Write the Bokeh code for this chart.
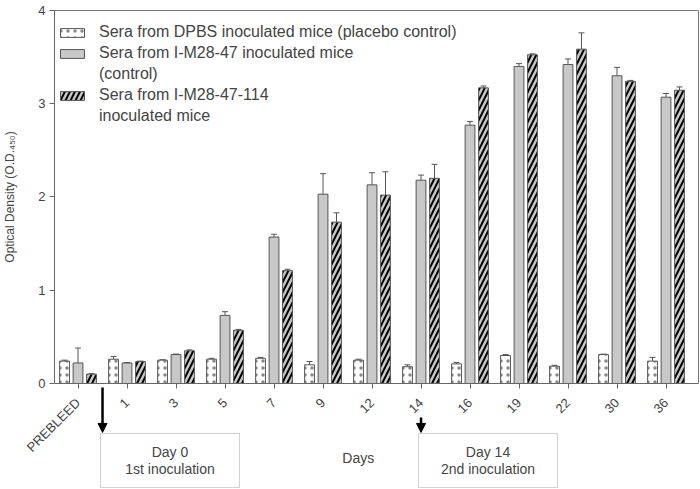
import math
from bokeh.plotting import figure
from bokeh.models import (Range1d, FixedTicker, Legend, LegendItem, Label, Arrow,
                          NormalHead, BoxAnnotation, ColumnDataSource, LinearAxis)
from bokeh.transform import dodge
from bokeh.embed import file_html
from bokeh.resources import INLINE

# ---- data ----
days = ["PREBLEED", "1", "3", "5", "7", "9", "12", "14", "16", "19", "22", "30", "36"]
dpbs = [0.24, 0.26, 0.25, 0.26, 0.27, 0.20, 0.25, 0.18, 0.21, 0.30, 0.185, 0.31, 0.24]
dpbs_err = [0.01, 0.03, 0.005, 0.01, 0.01, 0.035, 0.01, 0.02, 0.015, 0.01, 0.01, 0.005, 0.04]
m28 = [0.22, 0.22, 0.31, 0.73, 1.57, 2.03, 2.13, 2.18, 2.77, 3.40, 3.42, 3.30, 3.07]
m28_err = [0.16, 0.005, 0.005, 0.04, 0.03, 0.22, 0.13, 0.055, 0.04, 0.03, 0.06, 0.09, 0.04]
m114 = [0.10, 0.235, 0.35, 0.57, 1.21, 1.73, 2.02, 2.20, 3.17, 3.525, 3.585, 3.24, 3.145]
m114_err = [0.005, 0.005, 0.01, 0.01, 0.015, 0.10, 0.25, 0.15, 0.02, 0.01, 0.175, 0.01, 0.035]
y_ticks = [0, 1, 2, 3, 4]

FONT = "Liberation Sans"
TXT = "#444444"
EDGE = "#555555"
AX = "#666666"

X0, X1 = -0.48, 12.663   # data extent of the plotted area (y-axis at X0)
Y0, Y1 = 0, 4

idx = list(range(len(days)))
src = ColumnDataSource(dict(
    x=idx,
    dpbs=dpbs, dpbs_hi=[v + e for v, e in zip(dpbs, dpbs_err)],
    m28=m28, m28_hi=[v + e for v, e in zip(m28, m28_err)],
    m114=m114, m114_hi=[v + e for v, e in zip(m114, m114_err)],
))

# frame covers the whole canvas; the axes are pinned at x = X0, y = 0 and y = 4
p = figure(width=700, height=489, output_backend="svg", toolbar_location=None,
           x_range=Range1d(-1.582, X1), y_range=Range1d(-1.137, 4.107),
           min_border_left=0, min_border_right=2, min_border_top=0, min_border_bottom=0)
p.outline_line_color = None
p.xgrid.visible = False
p.ygrid.visible = False

OFF = 0.275
BW = 0.2
CAP = 0.06

for key, off in [("dpbs", -OFF), ("m28", 0.0), ("m114", OFF)]:
    p.segment(x0=dodge("x", off, range=p.x_range), y0=key,
              x1=dodge("x", off, range=p.x_range), y1=key + "_hi",
              source=src, line_color=EDGE, line_width=1)
    p.segment(x0=dodge("x", off - CAP, range=p.x_range), y0=key + "_hi",
              x1=dodge("x", off + CAP, range=p.x_range), y1=key + "_hi",
              source=src, line_color=EDGE, line_width=1)

r1 = p.vbar(x=dodge("x", -OFF, range=p.x_range), top="dpbs", width=BW, source=src,
            fill_color="white", line_color=EDGE, line_width=1,
            hatch_pattern=".", hatch_color="#888888", hatch_scale=7, hatch_weight=1)
r2 = p.vbar(x=dodge("x", 0.0, range=p.x_range), top="m28", width=BW, source=src,
            fill_color="#c8c8c8", line_color=EDGE, line_width=1)
r3 = p.vbar(x=dodge("x", OFF, range=p.x_range), top="m114", width=BW, source=src,
            fill_color="#c8c8c8", line_color=EDGE, line_width=1,
            hatch_pattern="/", hatch_color="black", hatch_scale=10, hatch_weight=2)
blank_a = p.vbar(x=[], top=[], width=BW, fill_alpha=0, line_alpha=0)
blank_b = p.vbar(x=[], top=[], width=BW, fill_alpha=0, line_alpha=0)

legend = Legend(items=[
    LegendItem(label="Sera from DPBS inoculated mice (placebo control)", renderers=[r1]),
    LegendItem(label="Sera from I-M28-47 inoculated mice", renderers=[r2]),
    LegendItem(label="(control)", renderers=[blank_a]),
    LegendItem(label="Sera from I-M28-47-114", renderers=[r3]),
    LegendItem(label="inoculated mice", renderers=[blank_b]),
], location=(57, 362.5), margin=0, padding=0, spacing=0, label_height=21,
    glyph_height=11, glyph_width=30, label_standoff=12,
    label_text_font=FONT, label_text_font_size="16px", label_text_color=TXT,
    border_line_alpha=0, background_fill_alpha=0)
p.add_layout(legend)

p.xaxis.fixed_location = Y0
p.xaxis.bounds = (X0, X1)
p.xaxis.ticker = FixedTicker(ticks=idx)
p.xaxis.major_label_overrides = {i: d for i, d in enumerate(days)}
p.xaxis.major_label_orientation = math.pi / 4
p.yaxis.fixed_location = X0
p.yaxis.ticker = FixedTicker(ticks=y_ticks)
p.yaxis.bounds = (Y0, Y1)
p.yaxis.axis_label = "Optical Density (O.D.\u2084\u2085\u2080)"
p.yaxis.axis_label_standoff = 18
p.yaxis.axis_label_text_font = FONT
p.yaxis.axis_label_text_font_size = "12px"
p.yaxis.axis_label_text_font_style = "normal"
p.yaxis.axis_label_text_color = TXT
for ax in (p.xaxis, p.yaxis):
    ax.axis_line_color = AX
    ax.major_tick_line_color = AX
    ax.major_tick_out = 5
    ax.major_tick_in = 0
    ax.minor_tick_line_color = None
    ax.major_label_text_font = FONT
    ax.major_label_text_font_size = "13px"
    ax.major_label_text_color = TXT
p.yaxis.major_label_standoff = 4
p.xaxis.major_label_standoff = 12

# plain frame lines on top and right of the data area
top_ax = LinearAxis(ticker=FixedTicker(ticks=[]), axis_line_color="#777777", bounds=(X0, X1),
                    fixed_location=Y1,
                    major_tick_out=0, major_tick_in=0, minor_tick_out=0, minor_tick_in=0,
                    major_label_standoff=0, major_label_text_font_size="0px")
right_ax = LinearAxis(ticker=FixedTicker(ticks=[]), axis_line_color="#777777", bounds=(Y0, Y1),
                      major_tick_out=0, major_tick_in=0, minor_tick_out=0, minor_tick_in=0,
                      major_label_standoff=0, major_label_text_font_size="0px")
p.add_layout(top_ax, "above")
p.add_layout(right_ax, "right")

# inoculation arrows and notes
for xs, ys, ye in [(0.5, -0.043, -0.525), (7.0, -0.365, -0.525)]:
    p.add_layout(Arrow(end=NormalHead(size=9, fill_color="black", line_color="black"),
                       x_start=xs, y_start=ys, x_end=xs, y_end=ye,
                       line_width=2.5, line_color="black"))

for left, right, l1, l2 in [(0.459, 3.296, "Day 0", "1st inoculation"),
                            (6.949, 9.785, "Day 14", "2nd inoculation")]:
    p.add_layout(BoxAnnotation(left=left, right=right, top=-0.536, bottom=-1.115,
                               fill_alpha=0, line_color=AX, line_width=1))
    cx = (left + right) / 2
    for txt, yy in [(l1, -0.74), (l2, -0.922)]:
        p.add_layout(Label(x=cx, y=yy, text=txt, text_align="center", text_baseline="middle",
                           text_font=FONT, text_font_size="14px", text_color=TXT))

p.add_layout(Label(x=5.72, y=-0.794, text="Days", text_align="center", text_baseline="middle",
                   text_font=FONT, text_font_size="14px", text_color=TXT))

open("out.html", "w").write(file_html(p, INLINE))
